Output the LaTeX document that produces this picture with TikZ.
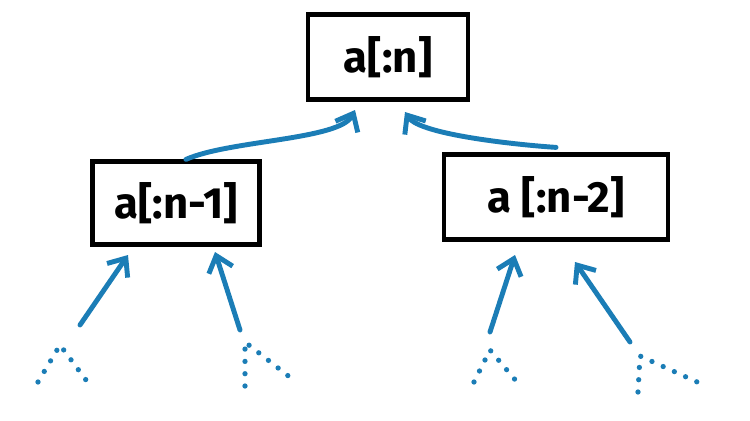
\documentclass[tikz,border=0pt]{standalone}
\usepackage{fontspec}
\setmainfont{Fira Sans}
\usetikzlibrary{arrows.meta,positioning}
\definecolor{pen}{HTML}{1B7DB6}

\begin{document}
\begin{tikzpicture}
  [
   x=0.02cm,y=-0.02cm,
   box/.style={draw,line width=2.4pt,inner sep=0pt,font=\Huge\bfseries},
   up/.style={draw=pen,line width=2.8pt,line cap=round,-{Straight Barb[length=3mm,width=5mm]}},
   twig/.style={draw=pen,line width=3pt,line cap=round,dash pattern=on 0pt off 7pt}
  ]
   \useasboundingbox (0,0) rectangle (750,420);
   \node[box,minimum width=3.2cm,minimum height=1.7cm] (top) at (388,57) {a[:n]};
   \node[box,minimum width=3.34cm,minimum height=1.66cm] (left) at (176,203) {a[:n-1]};
   \node[box,minimum width=4.48cm,minimum height=1.7cm] (right) at (556,197) {a [:n-2]};

   \coordinate (l1) at (80,325);
   \coordinate (l2) at (240,330);
   \coordinate (r1) at (490,332);
   \coordinate (r2) at (630,342);

   \draw[up] (left.north) ++(10,0) .. controls (230,140) and (340,140) .. (355,110);
   \draw[up] (right.north) ++(0,-5) .. controls (520,145) and (420,135) .. (405,112);
   \draw[up] (l1) -- (128,255);
   \draw[up] (l2) -- (215,252);
   \draw[up] (r1) -- (515,255);
   \draw[up] (r2) -- (575,262);

   % twigs below
   \draw[twig] (38,382) -- (60,345) -- (86,380);
   \draw[twig] (245,386) -- (245,342) -- (296,382);
   \draw[twig] (474,382) -- (490,350) -- (517,382);
   \draw[twig] (638,392) -- (640,356) -- (706,386);
\end{tikzpicture}
\end{document}
